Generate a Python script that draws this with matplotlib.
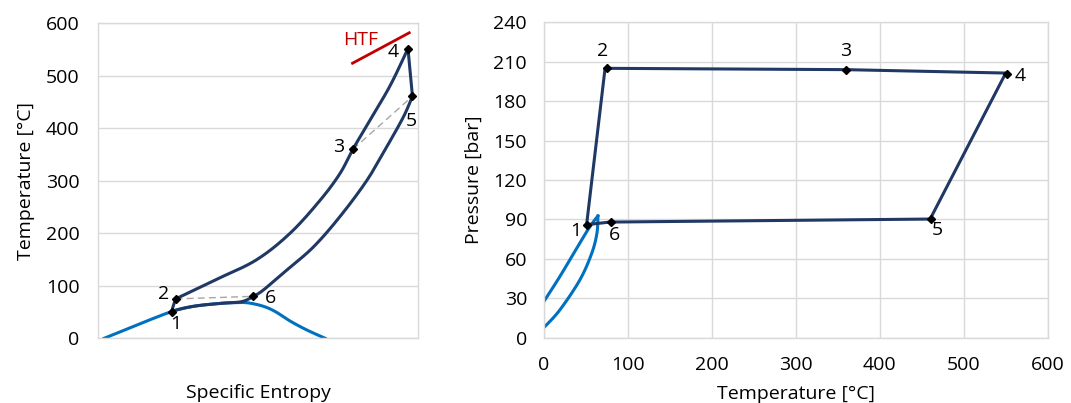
import matplotlib
matplotlib.use("Agg")
import matplotlib.pyplot as plt
import numpy as np

plt.rcParams['font.family'] = ['Open Sans', 'DejaVu Sans']

# state points 1..6 (shared temperatures)
POINT_NAMES = ["1", "2", "3", "4", "5", "6"]
T_POINTS = [51, 75, 360, 552, 461, 80]
S_POINTS = [23.1, 24.3, 79.6, 96.8, 98.2, 48.6]   # arbitrary entropy scale
P_POINTS = [86, 205, 204, 201, 90, 88]

# T-s diagram: cycle segments
TS_UP_S = [23.1, 23.6, 24.3]                         # 1 -> 2
TS_UP_T = [51, 62, 75]
TS_HEAT_S = [24.3, 36.6, 49.4, 60.0, 69.4, 75.6, 79.6, 85.0, 91.3, 96.8]   # 2 -> 3 -> 4
TS_HEAT_T = [75, 111, 149, 200, 263, 314, 360, 416, 482, 552]
TS_EXP_S = [96.8, 98.2]                              # 4 -> 5
TS_EXP_T = [552, 461]
TS_COOL_S = [98.2, 95.4, 90.2, 84.0, 75.6, 67.3, 59.0, 51.7, 48.6]       # 5 -> 6
TS_COOL_T = [461, 422, 365, 301, 232, 174, 130, 92, 80]
TS_COND_S = [48.6, 45.0, 38.7, 30.4, 25.2, 23.1]    # 6 -> 1
TS_COND_T = [80, 70, 66.7, 61.5, 55, 51]

# saturation dome
DOME_S = [2.0, 12.5, 23.1, 30.0, 37.0, 43.0, 47.0, 51.7, 55.4, 60.0, 65.2, 71.0]
DOME_T = [0, 26, 51, 61, 66, 68, 67.5, 61, 51, 33, 16, 0]

# HTF line
HTF_S = [79.5, 97.2]
HTF_T = [524, 582]

# P-T diagram
PT_CYCLE_T = [51, 73, 359, 550, 460, 78.5, 51]
PT_CYCLE_P = [86, 205, 204, 201.4, 90.3, 88, 86]
SAT_LIQ_T = [0, 19, 38, 52.4, 60, 64.5]
SAT_LIQ_P = [27.4, 46.4, 66.7, 82, 89, 92.6]
SAT_VAP_T = [0, 19, 42.9, 57.1, 63.3, 64.5]
SAT_VAP_P = [7.6, 21, 43.9, 64.2, 79.5, 92.6]

NAVY = "#203864"
BLUE = "#0070C0"
RED = "#C00000"
GRID = "#D9D9D9"
FS = 14


def smooth(xs, ys, n=20):
    # Catmull-Rom drawing of a smoothed line through the given points (like Excel)
    p = np.column_stack([xs, ys]).astype(float)
    if len(p) < 3:
        return p[:, 0], p[:, 1]
    ext = np.vstack([p[0], p, p[-1]])
    out = []
    t = np.linspace(0, 1, n, endpoint=False)[:, None]
    for i in range(1, len(ext) - 2):
        p0, p1, p2, p3 = ext[i - 1], ext[i], ext[i + 1], ext[i + 2]
        seg = 0.5 * ((2 * p1) + (-p0 + p2) * t + (2 * p0 - 5 * p1 + 4 * p2 - p3) * t ** 2
                     + (-p0 + 3 * p1 - 3 * p2 + p3) * t ** 3)
        out.append(seg)
    out.append(p[-1:])
    out = np.vstack(out)
    return out[:, 0], out[:, 1]


fig = plt.figure(figsize=(10.71, 4.03), dpi=100)
ax1 = fig.add_axes([0.0912, 0.1605, 0.2993, 0.7816])
ax2 = fig.add_axes([0.5077, 0.162, 0.4706, 0.7826])

for ax in (ax1, ax2):
    for sp in ax.spines.values():
        sp.set_color(GRID)
        sp.set_linewidth(1)
    ax.tick_params(length=0, labelsize=FS, colors='black')
    ax.set_axisbelow(True)

# ---- T-s diagram ----
ax1.plot(*smooth(DOME_S, DOME_T), color=BLUE, lw=2.2, zorder=2)
for xs, ys in [(TS_UP_S, TS_UP_T), (TS_HEAT_S, TS_HEAT_T), (TS_EXP_S, TS_EXP_T),
               (TS_COOL_S, TS_COOL_T), (TS_COND_S, TS_COND_T)]:
    ax1.plot(*smooth(xs, ys), color=NAVY, lw=2.2, zorder=3, solid_capstyle='round')
ax1.plot([S_POINTS[1], S_POINTS[5]], [T_POINTS[1], T_POINTS[5]], color="#A6A6A6",
         lw=1, ls=(0, (5, 3)), zorder=2)
ax1.plot([S_POINTS[2], S_POINTS[4]], [T_POINTS[2], T_POINTS[4]], color="#A6A6A6",
         lw=1, ls=(0, (5, 3)), zorder=2)
ax1.plot(S_POINTS, T_POINTS, ls='none', marker='D', ms=4.5, color='black', zorder=4)
ax1.plot(HTF_S, HTF_T, color=RED, lw=2, zorder=3)
ax1.text(81.9, 568, "HTF", color=RED, fontsize=FS, ha='center', va='center')

ts_labels = [(24.4, 28), (20.7, 84), (75.1, 365), (92.3, 546), (97.7, 414), (53.8, 76)]
for name, (lx, ly) in zip(POINT_NAMES, ts_labels):
    ax1.text(lx, ly, name, fontsize=FS, ha='center', va='center')

ax1.set_xlim(0, 100)
ax1.set_ylim(0, 600)
ax1.set_yticks(range(0, 601, 100))
ax1.set_xticks([])
ax1.yaxis.grid(True, color=GRID, lw=1)
ax1.tick_params(axis='y', pad=13)
ax1.set_ylabel("Temperature [°C]", fontsize=FS, labelpad=8)
ax1.set_xlabel("Specific Entropy", fontsize=FS, labelpad=33)

# ---- P-T diagram ----
ax2.plot(*smooth(SAT_LIQ_T, SAT_LIQ_P), color=BLUE, lw=2.2, zorder=2)
ax2.plot(*smooth(SAT_VAP_T, SAT_VAP_P), color=BLUE, lw=2.2, zorder=2)
ax2.plot(PT_CYCLE_T, PT_CYCLE_P, color=NAVY, lw=2.2, zorder=3, solid_joinstyle='round')
ax2.plot(T_POINTS, P_POINTS, ls='none', marker='D', ms=4.5, color='black', zorder=4)

pt_labels = [(38, 81), (70, 218), (359, 218), (567, 199), (468, 82), (84, 78)]
for name, (lx, ly) in zip(POINT_NAMES, pt_labels):
    ax2.text(lx, ly, name, fontsize=FS, ha='center', va='center')

ax2.set_xlim(0, 600)
ax2.set_ylim(0, 240)
ax2.set_xticks(range(0, 601, 100))
ax2.set_yticks(range(0, 241, 30))
ax2.grid(True, color=GRID, lw=1)
ax2.tick_params(axis='y', pad=12)
ax2.tick_params(axis='x', pad=13)
ax2.set_ylabel("Pressure [bar]", fontsize=FS, labelpad=8)
ax2.set_xlabel("Temperature [°C]", fontsize=FS, labelpad=8)

fig.savefig("out.png", dpi=100, facecolor='white')
